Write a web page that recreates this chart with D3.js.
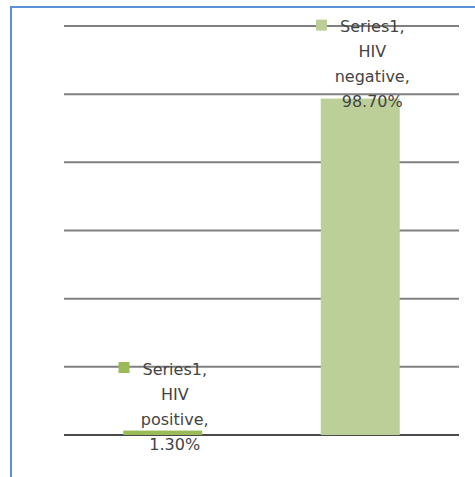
<!DOCTYPE html>
<html>
<head>
<meta charset="utf-8">
<script src="https://cdn.jsdelivr.net/npm/d3@7"></script>
<style>
  body { margin: 0; background: #fff; }
  svg { display: block; }
</style>
</head>
<body>
<script>
// chart data
seriesName = "Series1"
categories = ["HIV positive", "HIV negative"]
values = [1.3, 98.7]
gridTicks = [0, 20, 40, 60, 80, 100, 120]
barColors = ["#9bbb59", "#bccf98"]

width = 475
height = 477

var svg = d3.select("body").append("svg")
    .attr("width", width)
    .attr("height", height)

// blue frame, cropped on right and bottom
svg.append("rect")
    .attr("x", 11)
    .attr("y", 7)
    .attr("width", 480)
    .attr("height", 480)
    .attr("fill", "none")
    .attr("stroke", "#5b8fd9")
    .attr("stroke-width", 2)

x = d3.scaleBand()
    .domain(categories)
    .range([64, 459])
    .paddingInner(0.6)
    .paddingOuter(0.3)

y = d3.scaleLinear()
    .domain([0, 120])
    .range([435, 26])

// gridlines (no labels)
svg.append("g")
    .selectAll("line")
    .data(gridTicks)
    .join("line")
      .attr("x1", 64)
      .attr("x2", 459)
      .attr("y1", d => y(d))
      .attr("y2", d => y(d))
      .attr("stroke", d => d === 0 ? "#4a4a4a" : "#808080")
      .attr("stroke-width", 2)

// bars
svg.append("g")
    .selectAll("rect")
    .data(values)
    .join("rect")
      .attr("x", (d, i) => x(categories[i]))
      .attr("width", x.bandwidth())
      .attr("y", d => y(d))
      .attr("height", d => y(0) - y(d))
      .attr("fill", (d, i) => barColors[i])

// data labels: series, category, value (with legend key)
var lineH = 25
values.forEach(function(v, i) {
  var words = categories[i].split(" ")
  var lines = [seriesName + ",", words[0], words.slice(1).join(" ") + ",", v.toFixed(2) + "%"]
  var cx = x(categories[i]) + x.bandwidth() / 2 + 12
  // small bars get their label pushed under the baseline
  var lastY = (y(0) - y(v) < 30) ? y(0) + 10 : y(v) + 4
  var g = svg.append("g")
  var texts = g.selectAll("text")
    .data(lines)
    .join("text")
      .attr("x", cx)
      .attr("y", (d, j) => lastY - (lines.length - 1 - j) * lineH)
      .attr("text-anchor", "middle")
      .attr("dominant-baseline", "middle")
      .attr("font-family", "DejaVu Sans, sans-serif")
      .attr("font-size", 16)
      .attr("fill", "#444")
      .text(d => d)
  var w0 = texts.node().getComputedTextLength()
  g.append("rect")
      .attr("x", cx - w0 / 2 - 13 - 11)
      .attr("y", lastY - 3 * lineH - 8)
      .attr("width", 11)
      .attr("height", 11)
      .attr("fill", barColors[i])
})
</script>
</body>
</html>
